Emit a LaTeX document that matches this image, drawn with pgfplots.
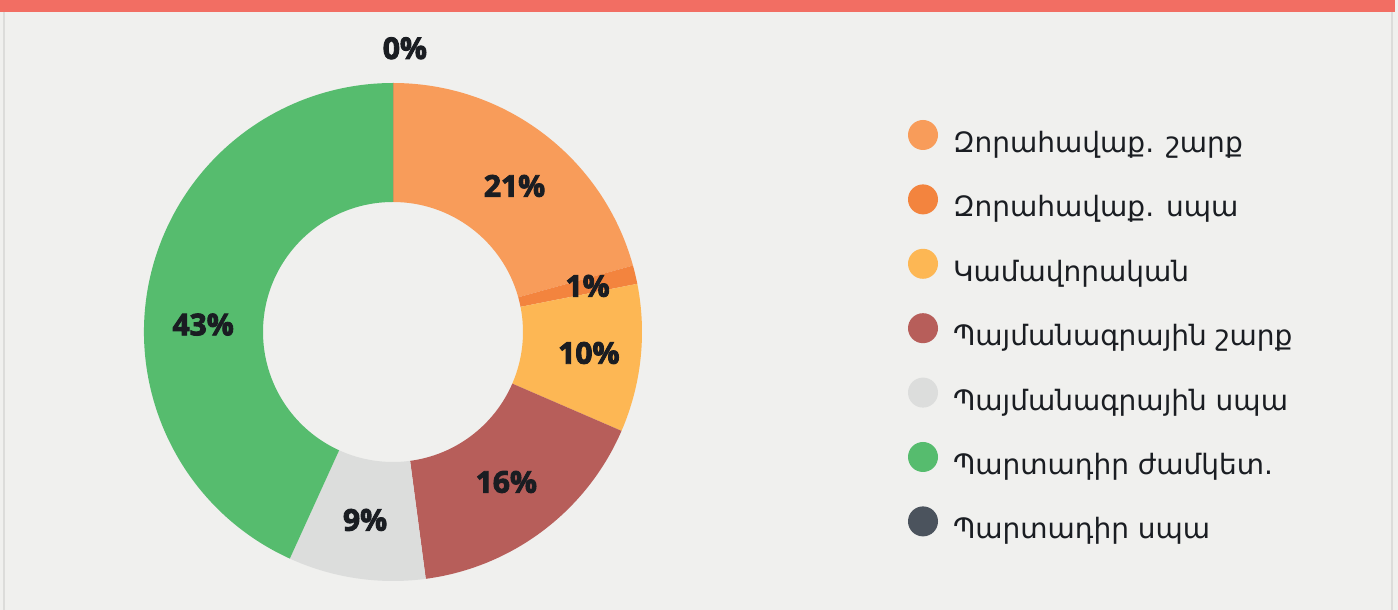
\documentclass[border=0pt]{standalone}
\usepackage{pgfplots}
\pgfplotsset{compat=1.18}
\usepackage{pgfplotstable}
\usepackage{fontspec}
\setmainfont{DejaVu Sans}
\newfontfamily\lblfont{Open Sans}[BoldFeatures={FakeBold=3}]
\definecolor{bg}{HTML}{F0F0EE}
\definecolor{topc}{HTML}{F26E63}
\definecolor{bord}{HTML}{DCDCDA}
\definecolor{txt}{HTML}{1A1D22}
\definecolor{cA}{HTML}{F89C5A}
\definecolor{cB}{HTML}{F3843E}
\definecolor{cC}{HTML}{FDB754}
\definecolor{cD}{HTML}{B75E5A}
\definecolor{cE}{HTML}{DCDDDC}
\definecolor{cF}{HTML}{56BC6E}
\definecolor{cG}{HTML}{4B535D}

% share (%), colour, label, label angle shift (deg), label radius (px)
\pgfplotstableread{
v    col  lab  dl    lr
20.7 cA   21   -2.5  190
1.2  cB   1    0     200
9.6  cC   10   0     197
16.4 cD   16   0     188
8.9  cE   9    0     190
43.2 cF   43   10    190
0.0  cG   0    -2.4  284
}\donut

\begin{document}
\begin{tikzpicture}
\begin{axis}[x=0.5pt, y=0.5pt, xmin=0, xmax=1398, ymin=0, ymax=610,
  hide axis, clip=false, scale only axis,
  legend style={at={(axis cs:908,490)}, anchor=north west, draw=none, fill=none,
    inner sep=0pt, outer sep=0pt, row sep=11.9pt, column sep=7.5pt,
    font=\fontsize{14}{16}\selectfont, text=txt,
    nodes={inner sep=0pt, text height=12pt, text depth=4pt}},
  legend cell align=left,
  legend image code/.code={\fill (7.5pt,4.8pt) circle (7.5pt);}]
\fill[bg] (axis cs:0,0) rectangle (axis cs:1398,610);
\fill[topc] (axis cs:0,598) rectangle (axis cs:1395,610);
\fill[bord] (axis cs:3,0) rectangle (axis cs:5,598);
\fill[bord] (axis cs:1391,0) rectangle (axis cs:1393,598);
% slices
\xdef\cum{0}
\pgfplotsinvokeforeach{0,...,6}{%
  \pgfplotstablegetelem{#1}{v}\of\donut \let\sv\pgfplotsretval
  \pgfplotstablegetelem{#1}{col}\of\donut \let\scol\pgfplotsretval
  \pgfmathsetmacro\ta{90-3.6*\cum}
  \pgfmathsetmacro\tb{90-3.6*(\cum+\sv)}
  \pgfmathsetmacro\newcum{\cum+\sv}
  \xdef\cum{\newcum}
  \edef\doit{\noexpand\fill[\scol] ([shift={(\ta:124.5pt)}]axis cs:393,278)
    arc[start angle=\ta, end angle=\tb, radius=124.5pt]
    -- ([shift={(\tb:65pt)}]axis cs:393,278)
    arc[start angle=\tb, end angle=\ta, radius=65pt] -- cycle;}%
  \doit
}
% labels on top
\xdef\cum{0}
\pgfplotsinvokeforeach{0,...,6}{%
  \pgfplotstablegetelem{#1}{v}\of\donut \let\sv\pgfplotsretval
  \pgfplotstablegetelem{#1}{lab}\of\donut \let\slab\pgfplotsretval
  \pgfplotstablegetelem{#1}{dl}\of\donut \let\sdl\pgfplotsretval
  \pgfplotstablegetelem{#1}{lr}\of\donut \let\slr\pgfplotsretval
  \pgfmathsetmacro\tm{90-3.6*(\cum+\sv/2)+\sdl}
  \pgfmathsetmacro\lx{393+\slr*cos(\tm)}
  \pgfmathsetmacro\ly{278+\slr*sin(\tm)}
  \pgfmathsetmacro\newcum{\cum+\sv}
  \xdef\cum{\newcum}
  \edef\doit{\noexpand\node[text=txt, font=\noexpand\lblfont\noexpand\bfseries\noexpand\fontsize{15}{18}\noexpand\selectfont]
      at (axis cs:\lx,\ly) {\slab\noexpand\%};}%
  \doit
}
\addlegendimage{fill=cA, draw=none}\addlegendentry{Զորահավաք. շարք}
\addlegendimage{fill=cB, draw=none}\addlegendentry{Զորահավաք. սպա}
\addlegendimage{fill=cC, draw=none}\addlegendentry{Կամավորական}
\addlegendimage{fill=cD, draw=none}\addlegendentry{Պայմանագրային շարք}
\addlegendimage{fill=cE, draw=none}\addlegendentry{Պայմանագրային սպա}
\addlegendimage{fill=cF, draw=none}\addlegendentry{Պարտադիր ժամկետ.}
\addlegendimage{fill=cG, draw=none}\addlegendentry{Պարտադիր սպա}
\end{axis}
\end{tikzpicture}
\end{document}
